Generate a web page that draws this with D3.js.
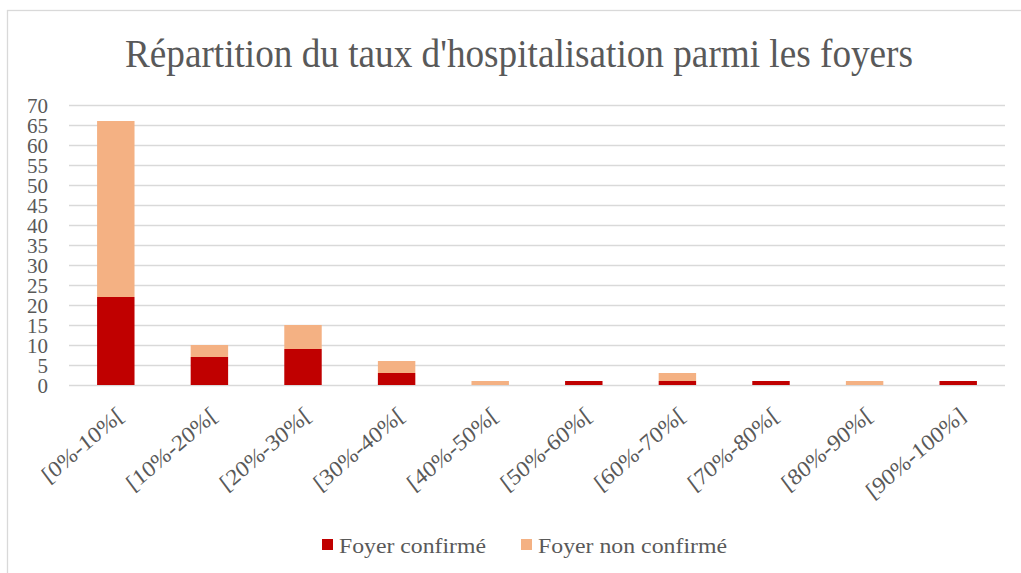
<!DOCTYPE html>
<html>
<head>
<meta charset="utf-8">
<script src="https://cdn.jsdelivr.net/npm/d3@7"></script>
<style>
  body { margin: 0; background: #fff; }
  svg text { font-family: "Liberation Serif", "Times New Roman", serif; fill: #595959; }
</style>
</head>
<body>
<svg id="chart" width="1021" height="573"></svg>
<script>
// categories and series
var categories = ["[0%-10%[", "[10%-20%[", "[20%-30%[", "[30%-40%[", "[40%-50%[",
                  "[50%-60%[", "[60%-70%[", "[70%-80%[", "[80%-90%[", "[90%-100%]"];
var confirmed    = [22, 7, 9, 3, 0, 1, 1, 1, 0, 1];
var notConfirmed = [44, 3, 6, 3, 1, 0, 2, 0, 1, 0];
var seriesNames  = ["Foyer confirmé", "Foyer non confirmé"];
var yTicks = [0, 5, 10, 15, 20, 25, 30, 35, 40, 45, 50, 55, 60, 65, 70];

var colors = ["#C00000", "#F4B183"];
var FONT = "'Liberation Serif', 'Times New Roman', serif";

var svg = d3.select("#chart");
var MARGINS = { top: 105, right: 16, bottom: 188, left: 69 },
    WIDTH = 1021, HEIGHT = 573;

// chart border (runs off the right / bottom of the picture)
svg.append("rect")
   .attr("x", 7.5).attr("y", 10.5)
   .attr("width", 1040).attr("height", 600)
   .attr("fill", "#fff").attr("stroke", "#D9D9D9").attr("stroke-width", 1.3);

var xScale = d3.scaleBand().domain(categories)
      .range([MARGINS.left, WIDTH - MARGINS.right]).paddingInner(0.6).paddingOuter(0.3),
    yScale = d3.scaleLinear().domain([0, 70])
      .range([HEIGHT - MARGINS.bottom, MARGINS.top]);

// gridlines
svg.append("g").selectAll("line").data(yTicks).join("line")
   .attr("x1", MARGINS.left).attr("x2", WIDTH - MARGINS.right)
   .attr("y1", function(d) { return Math.round(yScale(d)) + 0.5; })
   .attr("y2", function(d) { return Math.round(yScale(d)) + 0.5; })
   .attr("stroke", "#D9D9D9").attr("stroke-width", 1.3);

// y axis labels
var yAxis = d3.axisLeft(yScale).tickValues(yTicks).tickSize(0).tickPadding(0);
var gy = svg.append("g")
   .attr("transform", "translate(48,0)")
   .call(yAxis);
gy.attr("font-family", null);
gy.select(".domain").remove();
gy.selectAll("text")
   .attr("font-size", 21).style("font-family", FONT).style("fill", "#595959")
   .attr("dy", "0.34em");

// stacked bars
var rows = categories.map(function(c, i) {
  return { cat: c, confirmed: confirmed[i], notConfirmed: notConfirmed[i] };
});
var stack = d3.stack().keys(["confirmed", "notConfirmed"])(rows);

svg.append("g").selectAll("g").data(stack).join("g")
   .attr("fill", function(d, i) { return colors[i]; })
   .selectAll("rect").data(function(d) { return d; }).join("rect")
   .attr("x", function(d) { return xScale(d.data.cat); })
   .attr("width", xScale.bandwidth())
   .attr("y", function(d) { return yScale(d[1]); })
   .attr("height", function(d) { return yScale(d[0]) - yScale(d[1]); });

// x axis labels, rotated (slightly skewed like the original)
var xAxis = d3.axisBottom(xScale).tickSize(0).tickPadding(0);
var gx = svg.append("g")
   .attr("transform", "translate(0," + (HEIGHT - MARGINS.bottom) + ")")
   .call(xAxis);
gx.attr("font-family", null);
gx.select(".domain").remove();
gx.selectAll("text")
   .attr("font-size", 22).style("font-family", FONT).style("fill", "#595959")
   .attr("text-anchor", "end")
   .attr("dy", 0)
   .attr("y", 0)
   .attr("transform", "matrix(0.83,-0.72,0.6,0.8,9,33)");

// title
svg.append("text")
   .attr("x", 519).attr("y", 67)
   .attr("text-anchor", "middle")
   .attr("font-size", 40).style("font-family", FONT)
   .attr("textLength", 788).attr("lengthAdjust", "spacingAndGlyphs")
   .text("Répartition du taux d'hospitalisation parmi les foyers");

// legend
var legendX = [322, 521], legendW = [147, 189];
var lg = svg.append("g").selectAll("g").data(seriesNames).join("g")
   .attr("transform", function(d, i) { return "translate(" + legendX[i] + ",539)"; });
lg.append("rect").attr("width", 11).attr("height", 11)
   .attr("fill", function(d, i) { return colors[i]; });
lg.append("text").attr("x", 17).attr("y", 14)
   .attr("font-size", 21).style("font-family", FONT)
   .attr("textLength", function(d, i) { return legendW[i]; })
   .attr("lengthAdjust", "spacingAndGlyphs")
   .text(function(d) { return d; });
</script>
</body>
</html>
